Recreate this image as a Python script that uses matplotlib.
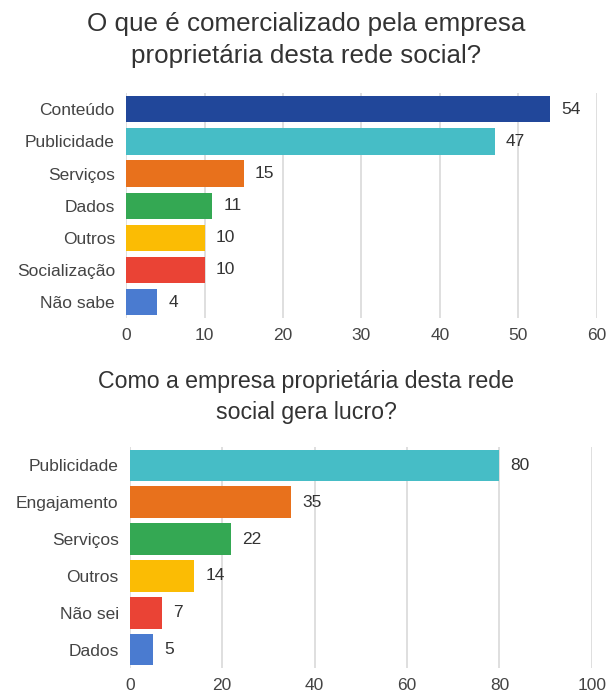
import matplotlib.pyplot as plt
import numpy as np

plt.rcParams['font.family'] = ['Liberation Sans', 'DejaVu Sans']

# top chart
titulo1 = 'O que é comercializado pela empresa\nproprietária desta rede social?'
cat1 = ['Conteúdo', 'Publicidade', 'Serviços', 'Dados', 'Outros', 'Socialização', 'Não sabe']
val1 = [54, 47, 15, 11, 10, 10, 4]
cor1 = ['#21479a', '#46bdc6', '#e8711c', '#34a853', '#fbbc04', '#ea4335', '#4a7bd0']

# bottom chart
titulo2 = 'Como a empresa proprietária desta rede\nsocial gera lucro?'
cat2 = ['Publicidade', 'Engajamento', 'Serviços', 'Outros', 'Não sei', 'Dados']
val2 = [80, 35, 22, 14, 7, 5]
cor2 = ['#46bdc6', '#e8711c', '#34a853', '#fbbc04', '#ea4335', '#4a7bd0']

fig = plt.figure(figsize=(6.12, 6.96), dpi=100)
ax1 = fig.add_axes([0.206, 0.543, 0.769, 0.323])
ax2 = fig.add_axes([0.212, 0.040, 0.755, 0.318])

def barras(ax, cats, vals, cores, xmax, passo, h, titulo, ty, tsize):
    y = np.arange(len(cats))
    ax.barh(y, vals, height=h, color=cores, zorder=3)
    for yi, v in zip(y, vals):
        ax.text(v + xmax * 0.024, yi, str(v), va='center', ha='left',
                fontsize=12.5, color='#333333')
    ax.set_xlim(0, xmax)
    ax.set_ylim(len(cats) - 0.5, -0.5)
    ax.set_xticks(np.arange(0, xmax + 1, passo))
    ax.set_yticks(y)
    ax.set_yticklabels(cats)
    ax.tick_params(length=0, labelsize=12.5, labelcolor='#444444')
    ax.tick_params(axis='x', pad=7)
    ax.tick_params(axis='y', pad=8)
    ax.grid(axis='x', color='#d9d9d9', linewidth=1.2, zorder=0)
    for s in ax.spines.values():
        s.set_visible(False)
    fig.text(0.5, ty, titulo, ha='center', va='center', fontsize=tsize,
             color='#333333', linespacing=1.45)

barras(ax1, cat1, val1, cor1, 60, 10, 0.82, titulo1, 1 - 40 / 696, 18.7)
barras(ax2, cat2, val2, cor2, 100, 20, 0.85, titulo2, 1 - 397 / 696, 16.7)

fig.savefig('out.png', dpi=100)
